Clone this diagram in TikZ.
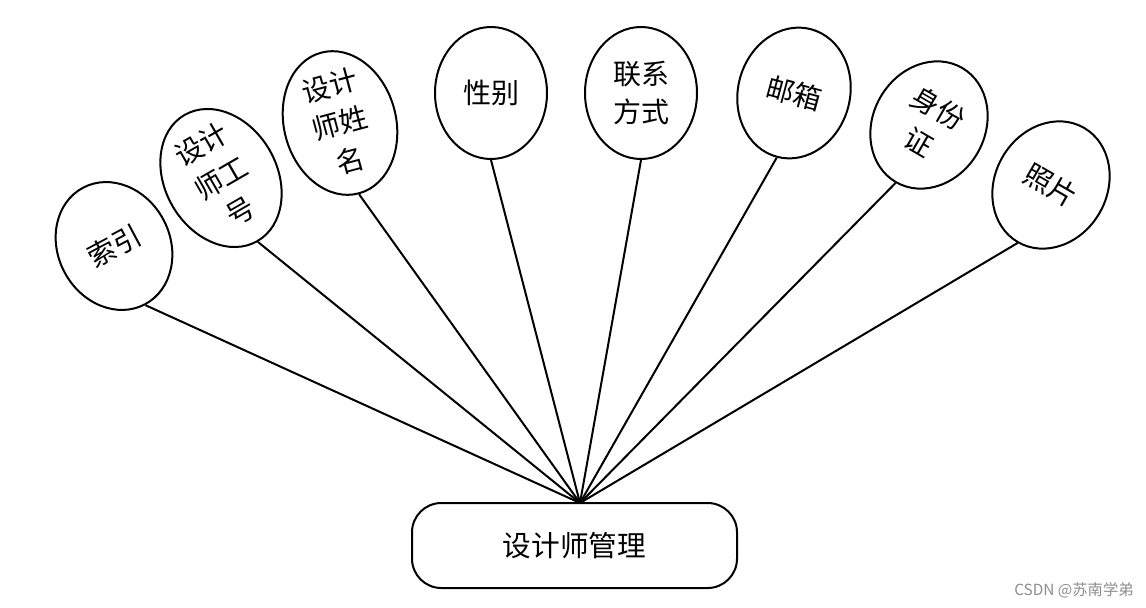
\documentclass[tikz,border=0pt]{standalone}
\usepackage{fontspec}
\newfontfamily\cjk{Noto Sans CJK SC}
\usetikzlibrary{shapes.geometric}
\tikzset{
  attr/.style={ellipse, draw, line width=1.5pt, minimum width=84pt, minimum height=99pt,
    inner sep=0pt, align=center, font=\cjk\fontsize{21}{29}\selectfont},
  mainbox/.style={draw, line width=1.5pt, rounded corners=22pt, minimum width=243.75pt,
    minimum height=63.75pt, inner sep=0pt, font=\cjk\fontsize{21.5}{29}\selectfont},
  link/.style={line width=1.5pt},
  wm/.style={font=\cjk\fontsize{11.5}{14}\selectfont, text=black!45, inner sep=0pt}
}
\begin{document}
\begin{tikzpicture}[x=0.75pt,y=-0.75pt]
\useasboundingbox (0,0) rectangle (1146,607);
\node[attr, rotate=28] (e1) at (114,246) {索引};
\node[attr, rotate=30] (e2) at (221,178) {设计\\师工\\号};
\node[attr, rotate=15] (e3) at (340,123) {设计\\师姓\\名};
\node[attr] (e4) at (491,93) {性别};
\node[attr] (e5) at (641,93) {联系\\方式};
\node[attr, rotate=-15] (e6) at (794,93) {邮箱};
\node[attr, rotate=-30] (e7) at (929,125) {身份\\证};
\node[attr, rotate=-30] (e8) at (1051,185) {照片};
\node[mainbox] (m) at (574.5,545.5) {设计师管理};
\coordinate (hub) at (580,503);
\foreach \i in {1,...,8} {\draw[link] (hub) -- (e\i.south);}
\node[wm, anchor=east] (w) at (1134,590) {CSDN @苏南学弟};
\end{tikzpicture}
\end{document}
